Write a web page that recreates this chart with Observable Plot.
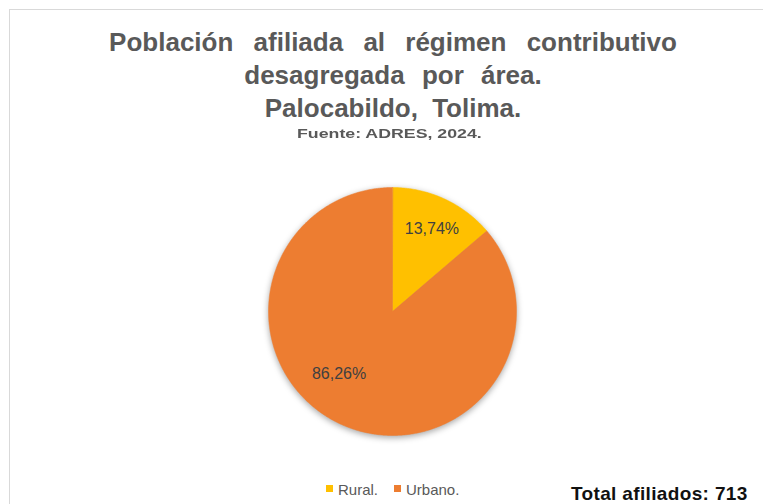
<!DOCTYPE html>
<html>
<head>
<meta charset="utf-8">
<script src="https://cdn.jsdelivr.net/npm/d3@7"></script>
<script src="https://cdn.jsdelivr.net/npm/@observablehq/plot@0.6"></script>
<style>
  html, body { margin: 0; padding: 0; background: #fff; }
  body { width: 763px; height: 504px; overflow: hidden; position: relative; font-family: "Liberation Sans", Arial, sans-serif; }
  #frame { position: absolute; left: 9px; top: 9px; width: 820px; height: 620px; border: 1px solid #d9d9d9; }
  .t { position: absolute; left: 0; width: 786px; text-align: center; font-weight: bold; color: #595959; white-space: nowrap; }
  .t1 { font-size: 26px; line-height: 26px; }
  #src { position: absolute; left: 297px; top: 128px; font-size: 12.5px; line-height: 12.5px; font-weight: bold; color: #595959; white-space: nowrap; transform-origin: 0 0; transform: scaleX(1.42); }
  #pie { position: absolute; left: 260px; top: 179px; }
  #pie g[aria-label="line"] { filter: drop-shadow(0px 2px 3px rgba(0,0,0,0.35)); }
  .sw { position: absolute; width: 7px; height: 7px; top: 485px; }
  .lg { position: absolute; top: 482px; font-size: 15px; line-height: 15px; color: #595959; white-space: nowrap; }
  #total { position: absolute; left: 571px; top: 484px; font-size: 19px; line-height: 19px; font-weight: bold; color: #111; white-space: nowrap; letter-spacing: 0.35px; }
</style>
</head>
<body>
<div id="frame"></div>
<div class="t t1" style="top:29px; word-spacing:13px;">Población afiliada al régimen contributivo</div>
<div class="t t1" style="top:62px; word-spacing:10px;">desagregada por área.</div>
<div class="t t1" style="top:95px; word-spacing:7px;">Palocabildo, Tolima.</div>
<div id="src">Fuente: ADRES, 2024.</div>
<div id="pie"></div>
<div id="legend"></div>
<div id="total"></div>
<script>
// ---- data ----
const categories = ["Rural.", "Urbano."];
const values = [13.74, 86.26];
const valueLabels = ["13,74%", "86,26%"];
const colors = ["#FFC000", "#ED7D31"];
const totalAfiliados = 713;

// ---- geometry (rendering only) ----
const R = 124, half = 132, dom = half / R;
const pie = d3.pie().sort(null).value(d => d.value)(categories.map((c, i) => ({cat: c, value: values[i], label: valueLabels[i]})));
const pts = [];
for (const s of pie) {
  pts.push({cat: s.data.cat, x: 0, y: 0});
  const n = Math.max(2, Math.ceil((s.endAngle - s.startAngle) / (Math.PI / 360)));
  for (let k = 0; k <= n; k++) {
    const a = s.startAngle + (s.endAngle - s.startAngle) * k / n;
    pts.push({cat: s.data.cat, x: Math.sin(a), y: Math.cos(a)});
  }
}
// label placement (radius fraction, angular offset in degrees) like Excel best-fit
const place = [{r: 0.74, da: 0.7}, {r: 0.66, da: 16}];
const labs = pie.map((s, i) => {
  const a = (s.startAngle + s.endAngle) / 2 + place[i].da * Math.PI / 180;
  return {x: place[i].r * Math.sin(a), y: place[i].r * Math.cos(a), text: s.data.label};
});

const chart = Plot.plot({
  width: 2 * half, height: 2 * half,
  margin: 0,
  style: {overflow: "visible", background: "transparent"},
  x: {domain: [-dom, dom], axis: null},
  y: {domain: [-dom, dom], axis: null},
  color: {domain: categories, range: colors},
  marks: [
    Plot.line(pts, {x: "x", y: "y", z: "cat", fill: "cat", stroke: "cat", strokeWidth: 0.5, curve: "linear-closed"}),
    Plot.text(labs, {x: "x", y: "y", text: "text", fill: "#404040", fontSize: 16, fontFamily: "Liberation Sans, Arial, sans-serif"})
  ]
});
document.getElementById("pie").appendChild(chart);

// legend
const legend = document.getElementById("legend");
const swX = [326, 394], txX = [338, 406];
categories.forEach((c, i) => {
  const sw = document.createElement("div");
  sw.className = "sw"; sw.style.left = swX[i] + "px"; sw.style.background = colors[i];
  legend.appendChild(sw);
  const t = document.createElement("div");
  t.className = "lg"; t.style.left = txX[i] + "px"; t.textContent = c;
  legend.appendChild(t);
});
document.getElementById("total").textContent = "Total afiliados: " + totalAfiliados;
</script>
</body>
</html>
